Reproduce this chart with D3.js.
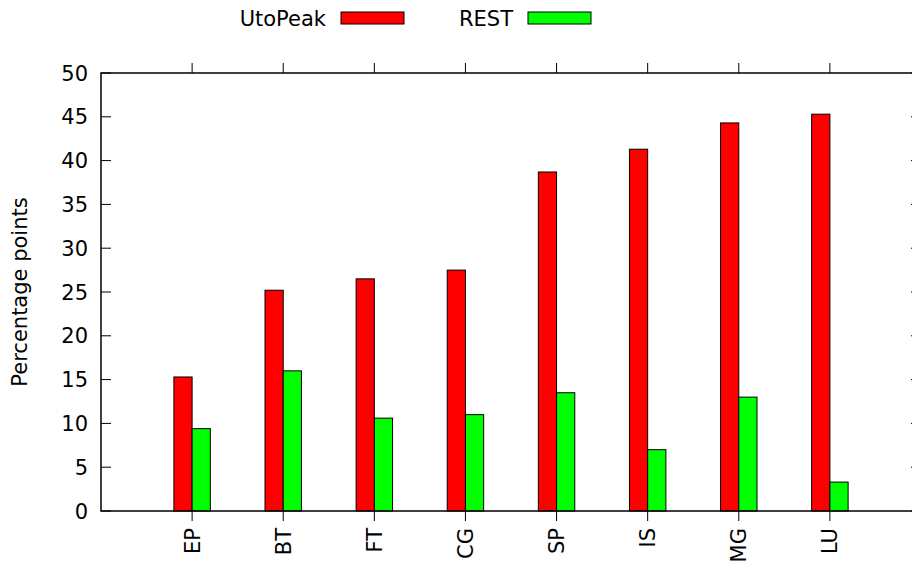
<!DOCTYPE html>
<html>
<head>
<meta charset="utf-8">
<script src="https://cdn.jsdelivr.net/npm/d3@7"></script>
<style>
  body { margin: 0; background: #fff; }
  svg { display: block; font-family: "DejaVu Sans", sans-serif; }
</style>
</head>
<body>
<div id="chart"></div>
<script>
// data
const categories = ["EP", "BT", "FT", "CG", "SP", "IS", "MG", "LU"];
const utoPeak = [15.3, 25.2, 26.5, 27.5, 38.7, 41.3, 44.3, 45.3];
const rest = [9.4, 16.0, 10.6, 11.0, 13.5, 7.0, 13.0, 3.3];
const yTicks = [0, 5, 10, 15, 20, 25, 30, 35, 40, 45, 50];
const seriesNames = ["UtoPeak", "REST"];
const seriesColors = ["#ff0000", "#00ff00"];

(function () {
  const W = 912, H = 572;
  const left = 101, right = 921, top = 73, bottom = 511;
  const fs = "21px";

  const svg = d3.select("#chart").append("svg")
    .attr("width", W).attr("height", H);

  // x is a linear scale over category index (gnuplot-style, -1 .. n)
  const x = d3.scaleLinear().domain([-1, categories.length]).range([left, right]);
  const y = d3.scaleLinear().domain([0, 50]).range([bottom, top]);
  const barW = x(0.2) - x(0);

  // y axis labels + inward ticks on both sides
  yTicks.forEach((t) => {
    svg.append("line")
      .attr("x1", left).attr("x2", left + 10)
      .attr("y1", y(t)).attr("y2", y(t))
      .attr("stroke", "#000");
    svg.append("line")
      .attr("x1", right).attr("x2", right - 10)
      .attr("y1", y(t)).attr("y2", y(t))
      .attr("stroke", "#000");
    svg.append("text")
      .attr("x", left - 13).attr("y", y(t))
      .attr("dy", "0.36em")
      .attr("text-anchor", "end")
      .attr("font-size", fs)
      .text(t);
  });

  // bars
  const series = [utoPeak, rest];
  series.forEach((vals, s) => {
    svg.selectAll(`.bar-${s}`)
      .data(vals)
      .enter()
      .append("rect")
      .attr("class", `bar-${s}`)
      .attr("x", (d, i) => (s === 0 ? x(i) - barW : x(i)))
      .attr("y", (d) => y(d))
      .attr("width", barW)
      .attr("height", (d) => y(0) - y(d))
      .attr("fill", seriesColors[s])
      .attr("stroke", "#000")
      .attr("stroke-width", 1);
  });

  // frame
  svg.append("rect")
    .attr("x", left).attr("y", top)
    .attr("width", right - left).attr("height", bottom - top)
    .attr("fill", "none")
    .attr("stroke", "#000")
    .attr("stroke-width", 1.5);

  // x ticks point outward, top and bottom
  categories.forEach((c, i) => {
    svg.append("line")
      .attr("x1", x(i)).attr("x2", x(i))
      .attr("y1", bottom).attr("y2", bottom + 10)
      .attr("stroke", "#000");
    svg.append("line")
      .attr("x1", x(i)).attr("x2", x(i))
      .attr("y1", top).attr("y2", top - 10)
      .attr("stroke", "#000");
    svg.append("text")
      .attr("transform", `translate(${x(i)},${bottom + 17}) rotate(-90)`)
      .attr("text-anchor", "end")
      .attr("dy", "0.36em")
      .attr("font-size", fs)
      .text(c);
  });

  // y axis title
  svg.append("text")
    .attr("transform", `translate(27,292) rotate(-90)`)
    .attr("text-anchor", "middle")
    .attr("font-size", fs)
    .text("Percentage points");

  // legend along the top
  const legendX = [326, 513];
  seriesNames.forEach((name, s) => {
    svg.append("text")
      .attr("x", legendX[s]).attr("y", 18)
      .attr("dy", "0.36em")
      .attr("text-anchor", "end")
      .attr("font-size", fs)
      .text(name);
    svg.append("rect")
      .attr("x", legendX[s] + 15).attr("y", 12)
      .attr("width", 63).attr("height", 12)
      .attr("fill", seriesColors[s])
      .attr("stroke", "#000");
  });
})();
</script>
</body>
</html>
